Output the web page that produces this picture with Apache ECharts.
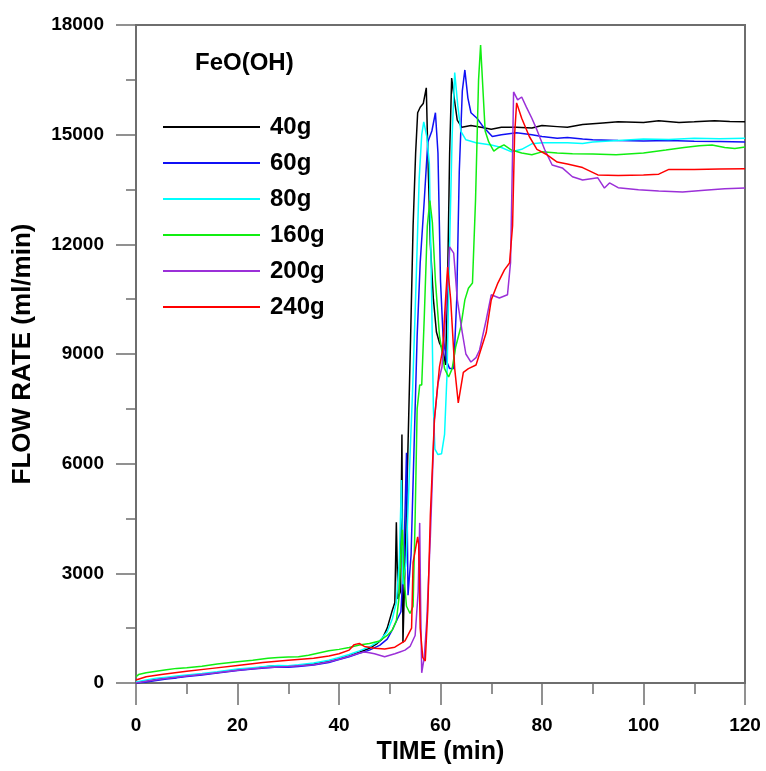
<!DOCTYPE html>
<html><head><meta charset="utf-8">
<script src="https://cdn.jsdelivr.net/npm/echarts@6/dist/echarts.min.js"></script>
<style>html,body{margin:0;padding:0;background:#fff}#c{width:766px;height:771px}</style>
</head><body><div id="c"></div>
<script>
const seriesNames = ['40g', '60g', '80g', '160g', '200g', '240g'];
const seriesColors = ['#000000', '#1010f5', '#00ffff', '#11ee11', '#9b30d8', '#ff0000'];
const xTicks = [0, 20, 40, 60, 80, 100, 120];
const yTicks = [0, 3000, 6000, 9000, 12000, 15000, 18000];

// [time (min), flow rate (ml/min)]
const s40g = [[0,0],[2,50],[4,100],[6,130],[8,160],[10,200],[13,240],[16,290],[20,360],[23,400],[26,450],[28,470],[30,460],[32,480],[35,520],[38,590],[40,660],[42,740],[44,840],[46,950],[47.5,1080],[48.5,1200],[49.5,1500],[50.4,1940],[51,2200],[51.3,4400],[51.6,2300],[52.1,2500],[52.4,6800],[52.6,1100],[53,3200],[53.6,6500],[54.1,9400],[54.6,12500],[55.1,14500],[55.5,15600],[56,15750],[56.6,15850],[57.2,16280],[57.5,14500],[58,12000],[58.6,10500],[59.2,9600],[59.8,9300],[60.5,9100],[61,8700],[61.4,11000],[61.8,14500],[62.2,16550],[62.7,16000],[63.3,15400],[64.2,15200],[66,15250],[68,15200],[70,15150],[72,15200],[75,15200],[78,15180],[80,15250],[83,15220],[85,15200],[88,15280],[92,15320],[95,15350],[100,15330],[103,15380],[107,15330],[110,15350],[114,15380],[117,15360],[120,15350]];
const s60g = [[0,0],[2,30],[4,70],[6,110],[8,140],[10,180],[13,220],[16,270],[20,340],[23,380],[26,420],[28,440],[30,430],[32,450],[35,490],[38,560],[40,640],[42,720],[44,810],[46,900],[48,1030],[49.5,1200],[50.5,1450],[51.5,1750],[52.2,1950],[52.8,3500],[53.3,6300],[53.6,2400],[54.2,3500],[54.8,6500],[55.4,9500],[56,11500],[56.8,13200],[57.5,14800],[58.3,15100],[59,15600],[59.5,14500],[60,11000],[60.5,9500],[61.2,8800],[61.8,8600],[62.6,8600],[63.2,10500],[63.7,14000],[64.3,16200],[64.8,16770],[65.4,16000],[66,15600],[67.2,15450],[68.5,15200],[70.2,14950],[72,15000],[75,15050],[78,15000],[80,14950],[83,14900],[85,14920],[88,14880],[90,14860],[95,14840],[100,14830],[105,14840],[110,14820],[115,14810],[120,14800]];
const s80g = [[0,30],[2,80],[4,130],[6,160],[8,190],[10,220],[13,260],[16,310],[20,380],[23,420],[26,460],[28,480],[30,470],[32,500],[35,550],[38,620],[40,700],[42,780],[44,880],[46,990],[48,1150],[49.5,1400],[50.5,1750],[51.3,2200],[51.9,3400],[52.3,5550],[52.6,2700],[53.2,3300],[53.8,5500],[54.5,8000],[55.2,11000],[55.8,13800],[56.3,15000],[56.7,15350],[57.3,14950],[57.8,14200],[58.2,11000],[58.6,7500],[58.9,6400],[59.5,6250],[60.2,6270],[60.8,6800],[61.3,8500],[61.8,12000],[62.3,15000],[62.8,16700],[63.4,15800],[64,15100],[65,14860],[67,14780],[70,14720],[72,14650],[74,14530],[76,14600],[78,14750],[80,14780],[85,14780],[88,14760],[90,14800],[95,14840],[100,14880],[105,14870],[110,14900],[115,14890],[120,14900]];
const s160g = [[0,170],[0.5,230],[2,280],[4,320],[6,360],[8,400],[10,420],[13,460],[16,520],[20,580],[23,620],[26,680],[28,700],[30,710],[32,720],[34,760],[36,820],[38,880],[40,920],[42,970],[44,1040],[46,1080],[48,1150],[49.5,1300],[50.5,1450],[51.3,1700],[51.8,2300],[52.2,3600],[52.5,4190],[52.8,2900],[53.3,2100],[54,1900],[54.6,2100],[55,4500],[55.4,7500],[55.9,8150],[56.3,8150],[56.8,10000],[57.4,12500],[57.9,13200],[58.4,12600],[59,11000],[59.8,9500],[60.8,8600],[61.6,8370],[62.3,8600],[63,9200],[64,9740],[64.8,10480],[65.5,10800],[66.3,10940],[66.9,13200],[67.5,16500],[67.9,17450],[68.3,16400],[68.8,15100],[69.5,14800],[70.5,14550],[71.5,14650],[72.5,14720],[74,14580],[76,14500],[78,14450],[80,14530],[83,14500],[86,14480],[90,14470],[94.6,14450],[100,14500],[104.4,14580],[108,14650],[111,14700],[113.5,14720],[116,14650],[118,14620],[120,14660]];
const s200g = [[0,0],[2,50],[5,110],[10,190],[15,270],[20,350],[25,420],[30,450],[35,500],[38,580],[40,650],[42,730],[44,820],[45,850],[46,830],[47,800],[48,760],[49,720],[50,760],[51,800],[52,850],[53,900],[54,1000],[55,1300],[55.6,2500],[55.9,4380],[56.1,2000],[56.3,280],[56.8,700],[57.3,1720],[58,4000],[58.8,7200],[59.5,8200],[60.3,8650],[61,10000],[61.8,11930],[62.6,11760],[63.3,10500],[64.3,9580],[65,9000],[66,8780],[67,8900],[67.7,9110],[69,9930],[70,10620],[71.6,10530],[73.2,10620],[73.8,11500],[74.2,14500],[74.4,16170],[75.2,15950],[76,16030],[76.9,15760],[78,15450],[79,15130],[80.5,14600],[82,14170],[84,14090],[86,13850],[88,13760],[91,13820],[92.3,13540],[93.3,13680],[95,13550],[99,13490],[103,13460],[107.7,13430],[112,13480],[116,13520],[120,13540]];
const s240g = [[0,80],[2,170],[5,230],[10,320],[15,400],[20,480],[25,560],[30,620],[35,680],[38,740],[40,800],[42,900],[43,1050],[44,1080],[45,1000],[47,950],[49,930],[51,980],[53,1150],[54.3,1500],[54.6,3300],[55.5,4000],[55.7,3800],[56,1500],[56.5,700],[57,600],[57.5,2000],[58,4600],[58.8,7200],[59.8,8650],[60.4,9100],[61,10500],[61.4,11380],[62,10500],[62.8,8600],[63.5,7660],[64.5,8500],[65.5,8600],[67,8700],[69,9580],[70,10480],[71.3,10940],[72.6,11300],[73.6,11490],[74.2,12500],[74.6,15000],[75,15870],[76,15450],[77.5,14950],[79,14600],[81,14450],[83,14250],[85,14200],[88,14100],[91,13900],[95,13880],[100,13900],[103,13920],[105,14050],[110,14050],[115,14060],[120,14070]];

const allSeries = [s40g, s60g, s80g, s160g, s200g, s240g];

const FONT = "'Liberation Sans', Arial, sans-serif";
const AXIS_COLOR = '#6e6e6e';

const chart = echarts.init(document.getElementById('c'), null, {renderer: 'canvas'});
chart.setOption({
  animation: false,
  backgroundColor: '#ffffff',
  title: {
    text: 'FeO(OH)', left: 195, top: 51, padding: 0,
    textStyle: {fontFamily: FONT, fontSize: 24, fontWeight: 'bold', color: '#000'}
  },
  legend: {
    orient: 'vertical', left: 163, top: 115, padding: 0,
    icon: 'rect', itemWidth: 97, itemHeight: 2, itemGap: 12,
    data: seriesNames,
    textStyle: {fontFamily: FONT, fontSize: 24, fontWeight: 'bold', color: '#000', lineHeight: 24, padding: [0, 0, 0, 5]}
  },
  grid: {
    left: 136, right: 21, top: 25, bottom: 88,
    show: true, borderColor: AXIS_COLOR, borderWidth: 2, backgroundColor: 'transparent'
  },
  xAxis: {
    type: 'value', min: 0, max: 120, interval: 20,
    name: 'TIME (min)', nameLocation: 'middle', nameGap: 55,
    nameTextStyle: {fontFamily: FONT, fontSize: 25, fontWeight: 'bold', color: '#000'},
    axisLine: {show: true, lineStyle: {color: AXIS_COLOR, width: 2}},
    axisTick: {show: true, length: 22, lineStyle: {color: AXIS_COLOR, width: 1.5}},
    minorTick: {show: true, splitNumber: 2, length: 11, lineStyle: {color: AXIS_COLOR, width: 1.5}},
    splitLine: {show: false},
    axisLabel: {fontFamily: FONT, fontSize: 19, fontWeight: 'bold', color: '#000', margin: 33,
      formatter: v => xTicks.includes(v) ? String(v) : ''}
  },
  yAxis: {
    type: 'value', min: 0, max: 18000, interval: 3000,
    name: 'FLOW RATE (ml/min)', nameLocation: 'middle', nameGap: 100, nameRotate: 90,
    nameTextStyle: {fontFamily: FONT, fontSize: 26, fontWeight: 'bold', color: '#000'},
    axisLine: {show: true, lineStyle: {color: AXIS_COLOR, width: 2}},
    axisTick: {show: true, length: 20, lineStyle: {color: AXIS_COLOR, width: 1.5}},
    minorTick: {show: true, splitNumber: 2, length: 10, lineStyle: {color: AXIS_COLOR, width: 1.5}},
    splitLine: {show: false},
    axisLabel: {fontFamily: FONT, fontSize: 19, fontWeight: 'bold', color: '#000', margin: 32,
      formatter: v => yTicks.includes(v) ? String(v) : ''}
  },
  series: allSeries.map((d, i) => ({
    name: seriesNames[i], type: 'line', data: d,
    showSymbol: false, symbol: 'none',
    lineStyle: {color: seriesColors[i], width: 1.5},
    itemStyle: {color: seriesColors[i]},
    emphasis: {disabled: true}
  }))
});
</script>
</body></html>
